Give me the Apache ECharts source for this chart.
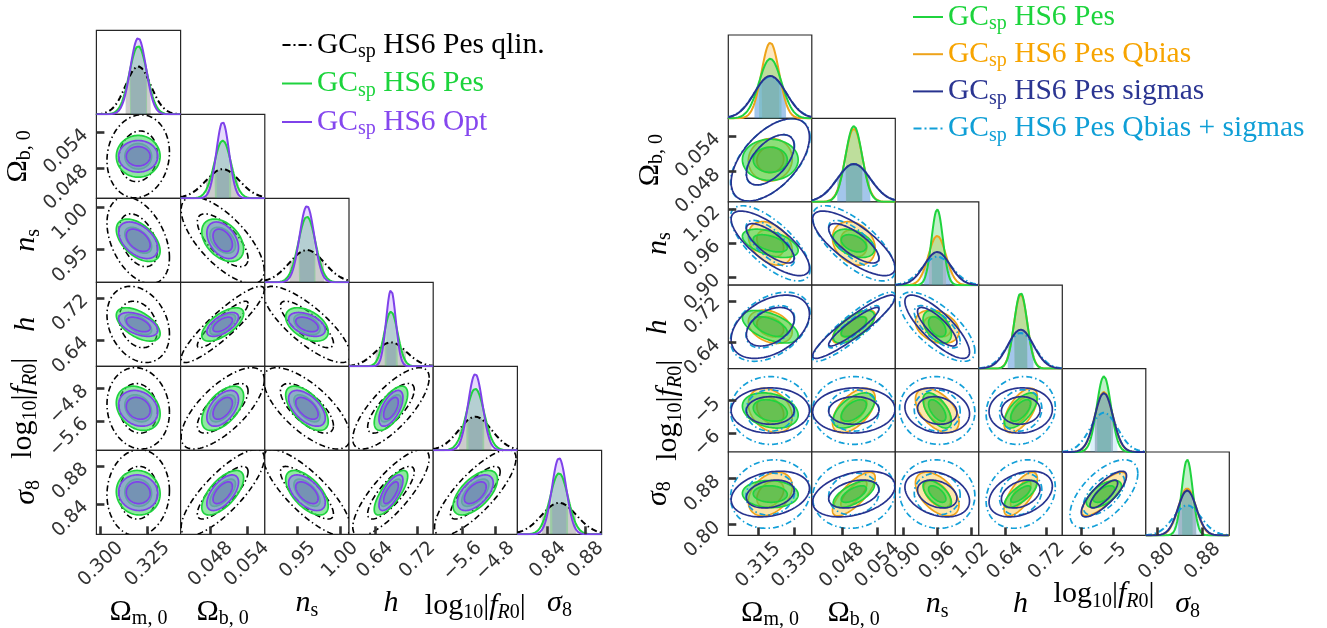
<!DOCTYPE html>
<html><head><meta charset="utf-8">
<script src="https://cdn.jsdelivr.net/npm/echarts@6/dist/echarts.min.js"></script>
<style>html,body{margin:0;padding:0;background:#fff}#c{width:1327px;height:628px}</style>
</head><body><div id="c"></div>
<script>
// ================= DATA =================
// parameter order: Omega_m0, Omega_b0, n_s, h, log10|fR0|, sigma_8
// correlation order (row,col): (1,0),(2,0),(2,1),(3,0),(3,1),(3,2),(4,0),(4,1),(4,2),(4,3),(5,0),(5,1),(5,2),(5,3),(5,4)

// ---- left panel ----
const leftAxisMin = [0.2977, 0.0430, 0.9113, 0.5908, -6.317, 0.8079];
const leftAxisMax = [0.3426, 0.0570, 1.0106, 0.7497, -4.262, 0.8970];
const leftTickLabels = [['0.300','0.325'], ['0.048','0.054'], ['0.95','1.00'], ['0.64','0.72'], ['−5.6','−4.8'], ['0.84','0.88']];
const leftMeans = [0.320, 0.050, 0.961, 0.670, -5.29, 0.852];
const qlinSigma = [0.0067, 0.00278, 0.0206, 0.029, 0.40, 0.0184];
const qlinCorr  = [0.1, -0.4, -0.7, -0.25, 0.9, -0.8, -0.1, 0.7, -0.7, 0.75, 0.05, 0.8, -0.8, 0.8, 0.8];
const pesSigma  = [0.0047, 0.0014, 0.0101, 0.0127, 0.218, 0.0095];
const pesCorr   = [0.0, -0.5, -0.4, -0.55, 0.65, -0.45, -0.25, 0.55, -0.6, 0.65, -0.05, 0.65, -0.6, 0.75, 0.6];
const optSigma  = [0.0042, 0.00106, 0.0087, 0.0091, 0.176, 0.0076];
const optCorr   = [0.0, -0.45, -0.4, -0.5, 0.6, -0.45, -0.2, 0.5, -0.55, 0.6, -0.05, 0.6, -0.55, 0.7, 0.55];

// ---- right panel ----
const rightAxisMin = [0.3024, 0.0429, 0.8858, 0.5887, -6.58, 0.7809];
const rightAxisMax = [0.3374, 0.0570, 1.0336, 0.7507, -4.01, 0.9263];
const rightTickLabels = [['0.315','0.330'], ['0.048','0.054'], ['0.90','0.96','1.02'], ['0.64','0.72'], ['−6','−5'], ['0.80','0.88']];
const rightMeans = [0.320, 0.050, 0.960, 0.670, -5.30, 0.853];
const qbiasSigma = [0.0037, 0.00145, 0.0155, 0.0130, 0.275, 0.0153];
const qbiasCorr  = [0.05, -0.35, -0.25, -0.3, 0.7, -0.3, -0.3, 0.55, -0.5, 0.6, 0.35, 0.75, -0.5, 0.7, 0.8];
const sigmasSigma = [0.0066, 0.0028, 0.023, 0.0247, 0.28, 0.016];
const sigmasCorr  = [0.55, -0.75, -0.75, 0.4, 0.92, -0.8, 0.0, 0.05, -0.15, 0.05, 0.25, 0.35, -0.3, 0.35, 0.8];
const qbsSigma = [0.0067, 0.0028, 0.0268, 0.027, 0.42, 0.024];
const qbsCorr  = [0.55, -0.7, -0.7, 0.4, 0.9, -0.7, 0.0, 0.0, -0.05, 0.1, 0.1, 0.1, -0.05, 0.2, 0.6];

const legendLeft  = ['GC_sp HS6 Pes qlin.', 'GC_sp HS6 Pes', 'GC_sp HS6 Opt'];
const legendRight = ['GC_sp HS6 Pes', 'GC_sp HS6 Pes Qbias', 'GC_sp HS6 Pes sigmas', 'GC_sp HS6 Pes Qbias + sigmas'];

const axisTitles = ['{o|Ω}{s|m, 0}', '{o|Ω}{s|b, 0}', '{i|n}{s|s}', '{i|h}', '{o|log}{s|10}{o||}{i|f}{si|R}{s|0}{o||}', '{i|σ}{s|8}'];

// ================= STYLES =================
const ST = {
  qlin:  {line:'#000000', lw:1.6, dash:[6,3,1.5,3], band:'rgba(0,0,0,0.2)', text:'#000000'},
  pes:   {line:'#1fd33e', lw:1.7, fill95:'rgba(50,215,80,0.55)', fill68:'rgba(20,150,40,0.30)', band:'rgba(30,200,60,0.28)', text:'#1cd43c'},
  opt:   {line:'#7f42ea', lw:1.7, fill95:'rgba(140,135,225,0.62)', fill68:'rgba(70,70,150,0.16)', band:'rgba(140,90,240,0.22)', text:'#8547ee'},
  qbias: {line:'#eea31a', lw:1.7, fill95:'rgba(252,205,90,0.5)', fill68:'rgba(240,170,40,0.35)', band:'rgba(250,175,50,0.3)', text:'#f7a400'},
  sigmas:{line:'#27338f', lw:1.7, band:'rgba(70,130,210,0.38)', text:'#2b3592'},
  qbs:   {line:'#129fd8', lw:1.7, dash:[6,3,1.5,3], band:'rgba(20,160,220,0.15)', text:'#0f9fd6'}
};
const TICK_FONT = 'DejaVu Sans';
const TICK_SIZE = 19;
const SERIF = 'Liberation Serif';

const titleRich = {
  o:{fontFamily:SERIF, fontSize:30, color:'#000', lineHeight:34, verticalAlign:'middle'},
  i:{fontFamily:SERIF, fontSize:30, fontStyle:'italic', color:'#000', lineHeight:34, verticalAlign:'middle'},
  s:{fontFamily:SERIF, fontSize:20, color:'#000', lineHeight:20, verticalAlign:'bottom'},
  si:{fontFamily:SERIF, fontSize:20, fontStyle:'italic', color:'#000', lineHeight:20, verticalAlign:'bottom'}
};

function num(s){ return parseFloat(s.replace('−','-')); }
function textW(s){ let t=0; for (const c of s){ t += c==='.'?0.318:(c==='−'?0.838:0.636); } return t*TICK_SIZE; }
function fmt(labels, vals, v){ const k = vals.findIndex(t=>Math.abs(t-v)<1e-9); return k>=0?labels[k]:''; }
function pdf(x,m,s){ return Math.exp(-0.5*((x-m)/s)*((x-m)/s))/(s*Math.sqrt(2*Math.PI)); }
function corrIdx(i,j){ return i*(i-1)/2 + j; }
const R68 = Math.sqrt(2.30), R95 = Math.sqrt(6.18);
function ring(mx,my,sx,sy,rho,r){
  const pts=[]; const N=120; const q=Math.sqrt(1-rho*rho);
  for (let k=0;k<=N;k++){ const t=2*Math.PI*k/N; const c=Math.cos(t), s=Math.sin(t);
    pts.push([mx + r*sx*c, my + r*sy*(rho*c + q*s)]); }
  return pts;
}

const grids=[], xAxes=[], yAxes=[], series=[];

function buildPanel(P){
  const n=6;
  for (let i=0;i<n;i++) for (let j=0;j<=i;j++){
    const g = grids.length;
    grids.push({left:P.x0+j*P.cw, top:P.y0+i*P.ch, width:P.cw, height:P.ch, show:true,
      borderColor:'#262626', borderWidth:1.2, backgroundColor:'#fff', outerBoundsMode:'none', containLabel:false});
    const bottom = (i===n-1), leftCol = (j===0 && i>0);
    const tx = P.ticks[j], txv = tx.map(num), wx = Math.max(...tx.map(textW));
    const bx = 0.707*(wx+13);
    xAxes.push({gridIndex:g, type:'value', min:P.mins[j], max:P.maxs[j], z:6,
      axisLine:{show:false}, splitLine:{show:false},
      axisTick:{show:bottom, inside:true, length:8, lineStyle:{color:'#333', width:2.6}, customValues:txv},
      axisLabel:{show:bottom, customValues:txv, formatter:(v)=>fmt(tx,txv,v), rotate:45, align:'center', verticalAlign:'middle',
        margin:13+bx/2-7, fontSize:TICK_SIZE, fontFamily:TICK_FONT, color:'#333', hideOverlap:false},
      name: bottom?axisTitles[j]:'', nameLocation:'middle', nameGap:13+bx,
      nameTextStyle:{rich:titleRich}, nameMoveOverlap:false});
    if (i===j){
      let peak=0; P.sets.forEach(d=>{ peak=Math.max(peak, 1/(d.sig[i]*Math.sqrt(2*Math.PI))); });
      yAxes.push({gridIndex:g, type:'value', min:0, max:1.1*peak, show:false, splitLine:{show:false}});
      P.sets.forEach(d=>{
        const m=P.means[i], s=d.sig[i]; const a=Math.max(m-s,P.mins[i]), b=Math.min(m+s,P.maxs[i]);
        const data=[]; for(let k=0;k<=50;k++){ const x=a+(b-a)*k/50; data.push([x,pdf(x,m,s)]); }
        series.push({type:'line', name:d.name+' band', xAxisIndex:g, yAxisIndex:g, data, symbol:'none', silent:true, animation:false,
          lineStyle:{width:0, opacity:0}, areaStyle:{color:d.st.band, opacity:1}, z:2});
      });
      P.sets.forEach(d=>{
        const m=P.means[i], s=d.sig[i]; const data=[];
        for(let k=0;k<=200;k++){ const x=P.mins[i]+(P.maxs[i]-P.mins[i])*k/200; data.push([x,pdf(x,m,s)]); }
        series.push({type:'line', name:d.name, xAxisIndex:g, yAxisIndex:g, data, symbol:'none', silent:true, animation:false, clip:true,
          lineStyle:{color:d.st.line, width:2, type:d.st.dash||'solid'}, itemStyle:{color:d.st.line}, z:3});
      });
    } else {
      const ty = P.ticks[i], tyv = ty.map(num), wy = Math.max(...ty.map(textW));
      yAxes.push({gridIndex:g, type:'value', min:P.mins[i], max:P.maxs[i], z:6,
        axisLine:{show:false}, splitLine:{show:false},
        axisTick:{show:leftCol, inside:true, length:8, lineStyle:{color:'#333', width:2.6}, customValues:tyv},
        axisLabel:{show:leftCol, customValues:tyv, formatter:(v)=>fmt(ty,tyv,v), rotate:45, margin:11,
          fontSize:TICK_SIZE, fontFamily:TICK_FONT, color:'#333', hideOverlap:false},
        name: leftCol?axisTitles[i]:'', nameLocation:'middle', nameGap:11+0.707*(wy+13)+3,
        nameTextStyle:{rich:titleRich}, nameMoveOverlap:false});
      P.sets.forEach(d=>{
        const rho = d.corr[corrIdx(i,j)];
        const outer = ring(P.means[j],P.means[i],d.sig[j],d.sig[i],rho,R95);
        const inner = ring(P.means[j],P.means[i],d.sig[j],d.sig[i],rho,R68);
        const data = outer.map(p=>[p[0],p[1],0]).concat(inner.map(p=>[p[0],p[1],1]));
        const st = d.st;
        series.push({type:'custom', name:d.name+' 2d', xAxisIndex:g, yAxisIndex:g, coordinateSystem:'cartesian2d',
          data, encode:{x:0,y:1}, silent:true, animation:false, clip:true, z:2,
          renderItem:function(params, api){
            if (params.dataIndex!==0) return null;
            const po = outer.map(p=>api.coord(p)), pi = inner.map(p=>api.coord(p));
            const cs = params.coordSys; const ch=[];
            if (st.fill95) ch.push({type:'polygon', shape:{points:po}, style:{fill:st.fill95, stroke:null}});
            if (st.fill68) ch.push({type:'polygon', shape:{points:pi}, style:{fill:st.fill68, stroke:null}});
            ch.push({type:'polygon', shape:{points:po}, style:{fill:'none', stroke:st.line, lineWidth:st.lw, lineDash:st.dash||null}});
            ch.push({type:'polygon', shape:{points:pi}, style:{fill:'none', stroke:st.line, lineWidth:st.lw, lineDash:st.dash||null}});
            return {type:'group', children:ch, clipPath:{type:'rect', shape:{x:cs.x, y:cs.y, width:cs.width, height:cs.height}}};
          }});
      });
    }
  }
}

buildPanel({x0:96.4, y0:30.3, cw:84.2, ch:84.0, mins:leftAxisMin, maxs:leftAxisMax, ticks:leftTickLabels, means:leftMeans,
  sets:[{name:legendLeft[0], sig:qlinSigma, corr:qlinCorr, st:ST.qlin},
        {name:legendLeft[1], sig:pesSigma, corr:pesCorr, st:ST.pes},
        {name:legendLeft[2], sig:optSigma, corr:optCorr, st:ST.opt}]});
buildPanel({x0:728.3, y0:35.0, cw:83.5, ch:83.4, mins:rightAxisMin, maxs:rightAxisMax, ticks:rightTickLabels, means:rightMeans,
  sets:[{name:legendRight[1], sig:qbiasSigma, corr:qbiasCorr, st:ST.qbias},
        {name:legendRight[0], sig:pesSigma, corr:pesCorr, st:ST.pes},
        {name:legendRight[3], sig:qbsSigma, corr:qbsCorr, st:ST.qbs},
        {name:legendRight[2], sig:sigmasSigma, corr:sigmasCorr, st:ST.sigmas}]});

const legendStyle = {};
legendStyle[legendLeft[0]] = ST.qlin; legendStyle[legendLeft[1]] = ST.pes; legendStyle[legendLeft[2]] = ST.opt;
legendStyle[legendRight[1]] = ST.qbias; legendStyle[legendRight[2]] = ST.sigmas; legendStyle[legendRight[3]] = ST.qbs;
const solidIcon = 'path://M0,0H30V2H0Z';
const dashIcon = 'path://M0,0H8V2H0Z M11,0H13V2H11Z M16,0H24V2H16Z M27,0H29V2H27Z';

function makeLegend(names, left, top, lh, gap){
  const rich={};
  names.forEach((nm,k)=>{ const c=legendStyle[nm].text;
    rich['m'+k]={fontFamily:SERIF, fontSize:29.5, color:c, lineHeight:lh, verticalAlign:'middle'};
    rich['s'+k]={fontFamily:SERIF, fontSize:20, color:c, lineHeight:20, verticalAlign:'bottom'};
  });
  return {orient:'vertical', left, top, itemWidth:30, itemHeight:2, itemGap:gap, selectedMode:false, padding:0,
    data:names.map(nm=>({name:nm, icon: legendStyle[nm].dash?dashIcon:solidIcon,
      itemStyle:{color:legendStyle[nm].line, borderWidth:0}})),
    formatter:(nm)=>{ const k=names.indexOf(nm); return '{m'+k+'|GC}{s'+k+'|sp}{m'+k+'|'+nm.replace('GC_sp','')+'}'; },
    textStyle:{rich}};
}

const chart = echarts.init(document.getElementById('c'), null, {renderer:'canvas'});
chart.setOption({
  animation:false,
  backgroundColor:'#fff',
  grid:grids, xAxis:xAxes, yAxis:yAxes, series,
  legend:[makeLegend(legendLeft, 282, 30, 34, 6.5), makeLegend(legendRight, 913, 2, 34, 5.2)]
});
</script></body></html>
